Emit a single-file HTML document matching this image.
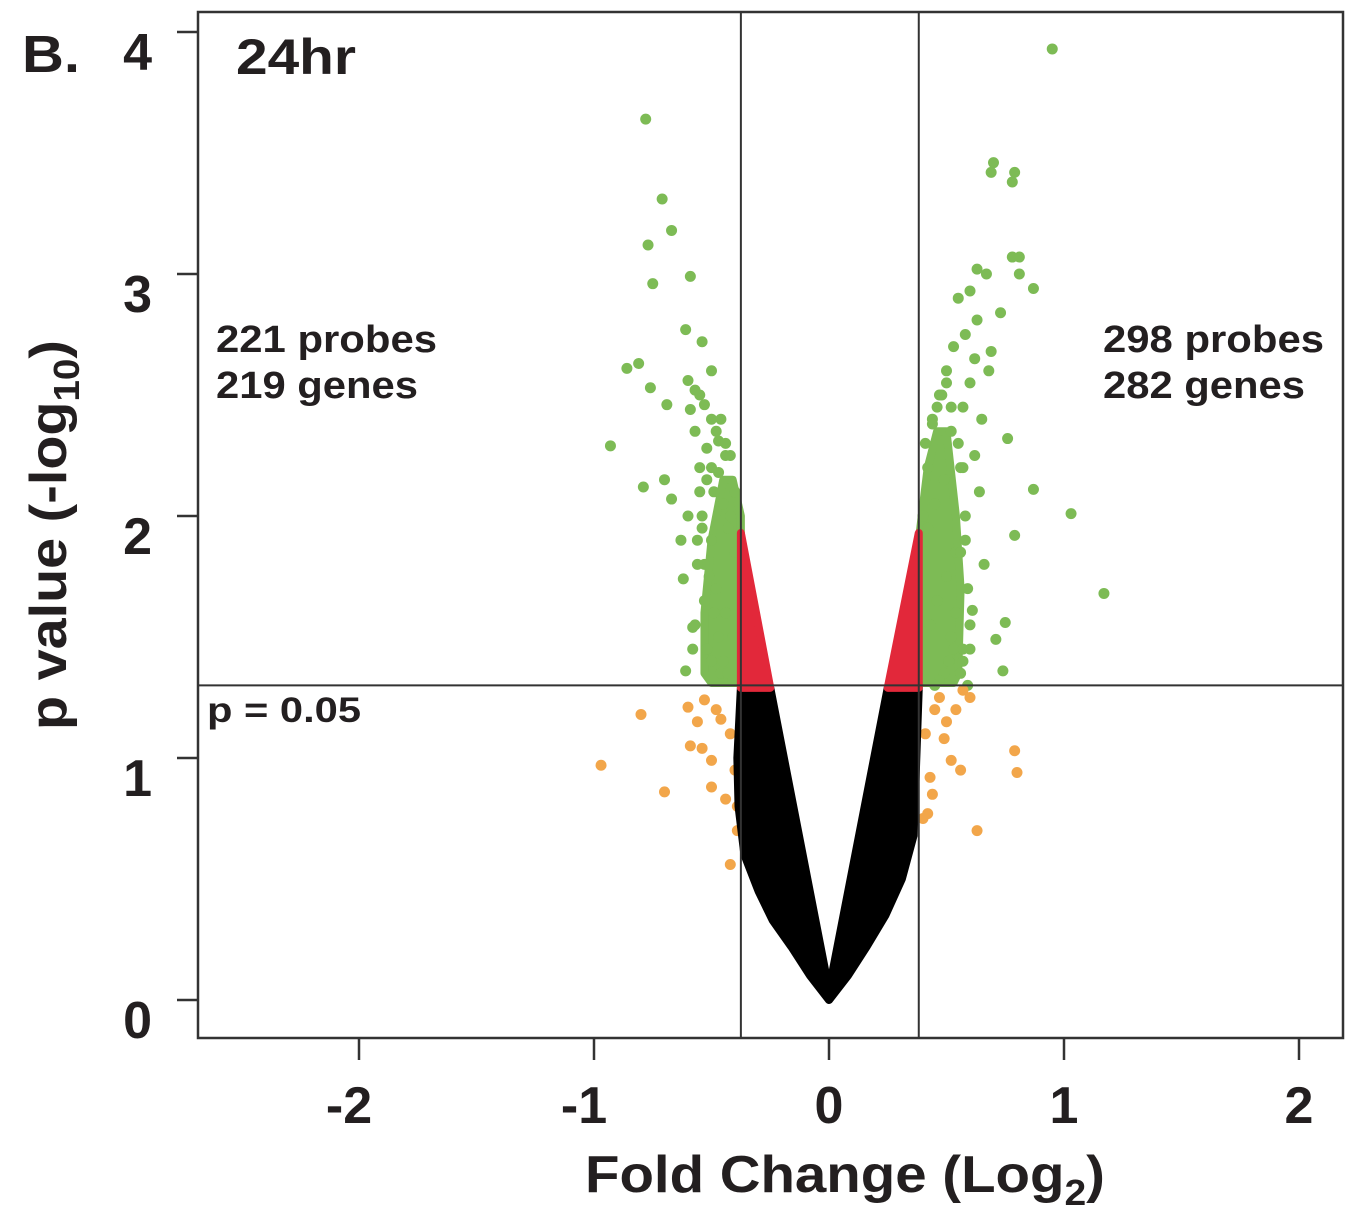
<!DOCTYPE html>
<html><head><meta charset="utf-8"><style>
html,body{margin:0;padding:0;background:#fff;}
svg{display:block;font-family:"Liberation Sans",Arial,sans-serif;font-weight:bold;}
</style></head><body>
<svg id="chart" width="1361" height="1218" viewBox="0 0 1361 1218">
<g id="marks"></g>
<rect x="198" y="12" width="1145" height="1026" fill="none" stroke="#333" stroke-width="2.5"/>
<g id="axes"></g>
<text x="22" y="72" font-size="52" textLength="58" lengthAdjust="spacingAndGlyphs" fill="#231f20">B.</text>
<text x="236" y="74" font-size="50" textLength="120" lengthAdjust="spacingAndGlyphs" fill="#231f20">24hr</text>
<text x="216" y="352" font-size="38" textLength="221" lengthAdjust="spacingAndGlyphs" fill="#231f20">221 probes</text>
<text x="216" y="398" font-size="38" textLength="202" lengthAdjust="spacingAndGlyphs" fill="#231f20">219 genes</text>
<text x="1103" y="352" font-size="38" textLength="221" lengthAdjust="spacingAndGlyphs" fill="#231f20">298 probes</text>
<text x="1103" y="398" font-size="38" textLength="202" lengthAdjust="spacingAndGlyphs" fill="#231f20">282 genes</text>
<text x="207" y="722" font-size="35" textLength="154" lengthAdjust="spacingAndGlyphs" fill="#231f20">p = 0.05</text>
<text x="585" y="1192" font-size="52" textLength="520" lengthAdjust="spacingAndGlyphs" fill="#231f20">Fold Change (Log<tspan font-size="36" dy="13">2</tspan><tspan dy="-13">)</tspan></text>
<text transform="translate(66,730) rotate(-90)" font-size="52" textLength="390" lengthAdjust="spacingAndGlyphs" fill="#231f20">p value (-log<tspan font-size="36" dy="13">10</tspan><tspan dy="-13">)</tspan></text>
</svg>
<script>
const xTicks=[-2,-1,0,1,2];
const yTicks=[0,1,2,3,4];
const foldThreshold=[-0.375,0.382];
const pThreshold=1.3;
const greenX=[-0.78,-0.71,-0.77,-0.67,-0.75,-0.59,-0.61,-0.54,-0.86,-0.81,-0.76,-0.69,-0.93,-0.79,-0.6,-0.57,-0.53,-0.5,-0.59,-0.47,-0.44,-0.62,-0.58,-0.61,-0.70,-0.67,-0.55,-0.52,-0.49,-0.45,-0.42,-0.56,-0.53,-0.48,-0.44,-0.41,-0.57,-0.52,-0.47,-0.43,-0.4,-0.58,-0.5,-0.46,-0.63,-0.6,-0.55,-0.5,
-0.55,-0.54,-0.56,-0.53,-0.57,-0.52,-0.5,-0.48,-0.46,-0.44,-0.42,-0.4,-0.51,-0.49,-0.47,-0.45,-0.43,-0.41,-0.54,-0.5,
0.95,0.70,0.69,0.79,0.78,0.78,0.81,0.87,0.81,0.63,0.67,0.60,0.73,0.63,0.69,0.68,0.76,0.87,1.03,0.79,1.17,0.75,0.74,0.71,0.61,0.55,0.58,0.62,0.6,0.57,0.53,0.5,0.47,0.44,0.41,0.52,0.56,0.49,0.45,0.42,0.58,0.54,0.5,0.46,0.43,0.6,0.57,0.65,0.62,0.64,0.66,0.59,0.56,0.52,
0.55,0.57,0.58,0.56,0.59,0.54,0.52,0.5,0.48,0.46,0.44,0.42,0.4,0.53,0.51,0.49,0.47,0.45,0.6,0.57];
const greenY=[3.64,3.31,3.12,3.18,2.96,2.99,2.77,2.72,2.61,2.63,2.53,2.46,2.29,2.12,2.56,2.52,2.46,2.4,2.44,2.31,2.25,1.74,1.54,1.36,2.15,2.07,2.2,2.15,2.1,2.05,2.0,1.9,1.8,1.7,1.6,1.5,2.35,2.28,2.18,1.95,1.85,1.45,1.4,1.35,1.9,2.0,2.5,2.6,
2.1,1.95,1.8,1.65,1.55,1.45,2.2,2.35,2.4,2.3,2.25,2.1,1.75,1.6,1.5,1.4,1.35,1.32,2.0,1.9,
3.93,3.46,3.42,3.42,3.38,3.07,3.07,2.94,3.0,3.02,3.0,2.93,2.84,2.81,2.68,2.6,2.32,2.11,2.01,1.92,1.68,1.56,1.36,1.49,1.61,2.9,2.75,2.65,2.55,2.45,2.7,2.6,2.5,2.4,2.3,2.35,2.2,2.15,2.05,1.95,1.9,1.85,1.75,1.65,1.55,1.45,1.4,2.4,2.25,2.1,1.8,1.3,1.35,1.5,
2.3,2.2,2.0,1.85,1.7,1.6,2.45,2.55,2.5,2.45,2.38,2.2,2.0,1.45,1.4,1.35,1.32,1.3,1.55,1.45];
const orangeX=[-0.97,-0.80,-0.70,-0.60,-0.59,-0.54,-0.50,-0.50,-0.42,-0.44,-0.46,-0.53,-0.42,-0.40,-0.39,-0.39,-0.48,-0.56,
0.63,0.80,0.79,0.56,0.52,0.57,0.54,0.49,0.45,0.43,0.42,0.47,0.41,0.44,0.6,0.5,0.4];
const orangeY=[0.97,1.18,0.86,1.21,1.05,1.04,0.99,0.88,0.56,0.83,1.16,1.24,1.1,0.95,0.8,0.7,1.2,1.15,
0.70,0.94,1.03,0.95,0.99,1.28,1.2,1.08,1.2,0.92,0.77,1.25,1.1,0.85,1.25,1.15,0.75];
const blackOuterX=[-0.375,-0.39,-0.385,-0.36,-0.3,-0.24,-0.16,-0.08,0,0.08,0.16,0.24,0.31,0.36,0.382];
const blackOuterY=[1.29,1.0,0.8,0.6,0.45,0.33,0.22,0.1,0.0,0.1,0.22,0.35,0.5,0.68,1.29];
const blackInnerX=[0.25,0,-0.25];
const blackInnerY=[1.29,0.04,1.29];
const redLeftX=[-0.375,-0.25,-0.375];
const redLeftY=[1.29,1.29,1.93];
const redRightX=[0.382,0.25,0.382];
const redRightY=[1.29,1.29,1.93];
const greenBandLX=[-0.375,-0.375,-0.41,-0.45,-0.5,-0.53,-0.53,-0.5];
const greenBandLY=[1.31,2.0,2.15,2.15,1.9,1.6,1.35,1.31];
const greenBandRX=[0.382,0.382,0.42,0.46,0.5,0.54,0.56,0.55,0.53];
const greenBandRY=[1.31,1.9,2.2,2.35,2.35,2.0,1.7,1.35,1.31];

const NS="http://www.w3.org/2000/svg";
const X=v=>829+v*235, Y=v=>1000-v*242;
const marks=document.getElementById('marks'), axes=document.getElementById('axes');
function poly(xs,ys,fill,name){
  const p=document.createElementNS(NS,'polygon');
  p.setAttribute('points',xs.map((x,i)=>X(x)+','+Y(ys[i])).join(' '));
  p.setAttribute('fill',fill);p.setAttribute('stroke',fill);p.setAttribute('stroke-width','8');p.setAttribute('stroke-linejoin','round');
  
  
  marks.appendChild(p);
}
function dots(xs,ys,fill,name){
  xs.forEach((x,i)=>{
    const c=document.createElementNS(NS,'circle');
    c.setAttribute('cx',X(x));c.setAttribute('cy',Y(ys[i]));c.setAttribute('r',5.5);c.setAttribute('fill',fill);
    
    
    marks.appendChild(c);
  });
}
poly(greenBandLX,greenBandLY,'#7dbb55','green-band-left');
poly(greenBandRX,greenBandRY,'#7dbb55','green-band-right');
dots(greenX,greenY,'#7dbb55','significant-point');
dots(orangeX,orangeY,'#f2a64a','fold-only-point');
poly(blackOuterX.concat(blackInnerX),blackOuterY.concat(blackInnerY),'#000','nonsignificant-region');
poly(redLeftX,redLeftY,'#e2283a','p-only-region-left');
poly(redRightX,redRightY,'#e2283a','p-only-region-right');
function line(x1,y1,x2,y2,name,w){
  const l=document.createElementNS(NS,'line');
  l.setAttribute('x1',x1);l.setAttribute('y1',y1);l.setAttribute('x2',x2);l.setAttribute('y2',y2);
  l.setAttribute('stroke','#333');l.setAttribute('stroke-width',w||2.5);
  
  
  return l;
}
foldThreshold.forEach(f=>axes.appendChild(line(X(f),12,X(f),1038,'fold-threshold-line',2)));
axes.appendChild(line(198,Y(pThreshold),1343,Y(pThreshold),'p-threshold-line',2));
xTicks.forEach(t=>{
  axes.appendChild(line(X(t),1038,X(t),1060,'x-tick'));
  const tx=document.createElementNS(NS,'text');
  tx.setAttribute('x',X(t)-(t<0?10:0));tx.setAttribute('y',1123);tx.setAttribute('font-size','52');tx.setAttribute('text-anchor','middle');tx.setAttribute('fill','#231f20');
  tx.textContent=t;
  
  
  axes.appendChild(tx);
});
yTicks.forEach(t=>{
  axes.appendChild(line(177,Y(t),198,Y(t),'y-tick'));
  const tx=document.createElementNS(NS,'text');
  tx.setAttribute('x',152);tx.setAttribute('y',Y(t)+38);tx.setAttribute('font-size','52');tx.setAttribute('text-anchor','end');tx.setAttribute('fill','#231f20');
  tx.textContent=t;
  
  
  axes.appendChild(tx);
});
</script>
</body></html>
